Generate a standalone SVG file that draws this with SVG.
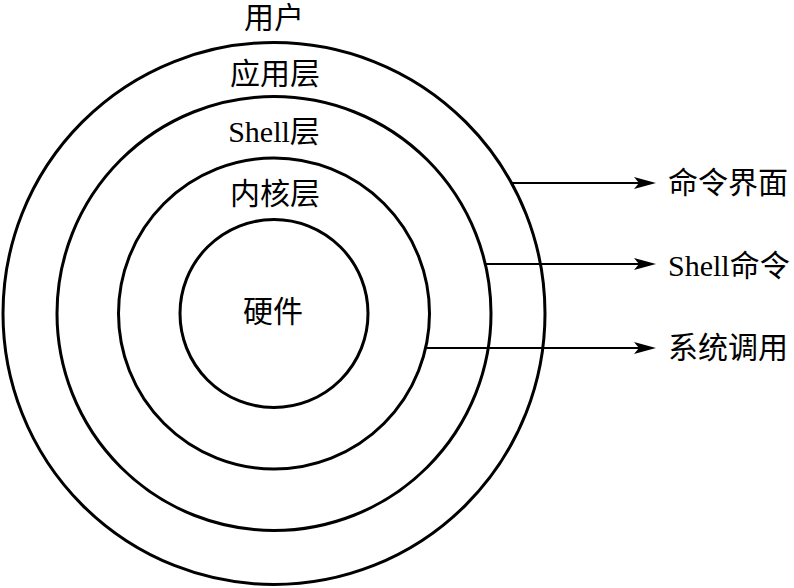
<svg xmlns="http://www.w3.org/2000/svg" width="794" height="588" viewBox="0 0 794 588">
<style>
.ring{fill:none;stroke:#000;stroke-width:3}
.conn{stroke:#000;stroke-width:2;fill:none}
text{font-family:"Liberation Serif","Noto Sans CJK SC",serif;font-size:30px;fill:#000;dominant-baseline:central}
.c{text-anchor:middle}
</style>
<defs>
<marker id="ah" markerUnits="userSpaceOnUse" markerWidth="24" markerHeight="14" refX="16" refY="7" orient="auto">
<path d="M0,1 L22,7 L0,13 L5,7 Z" fill="#000"/>
</marker>
</defs>
<rect width="794" height="588" fill="#fff"/>
<g id="user"><circle class="ring" cx="274" cy="313.5" r="271"/><text class="c" x="274" y="17">用户</text></g>
<g id="app"><circle class="ring" cx="274" cy="313.5" r="217"/><text class="c" x="275" y="73">应用层</text></g>
<g id="shell"><circle class="ring" cx="274" cy="313.5" r="155.5"/><text class="c" x="274" y="131">Shell层</text></g>
<g id="kernel"><circle class="ring" cx="274" cy="313.5" r="94"/><text class="c" x="275" y="193">内核层</text></g>
<g id="hw"><text class="c" x="273" y="311">硬件</text></g>
<g id="connectors">
<line class="conn" x1="511" y1="183" x2="650" y2="183" marker-end="url(#ah)"/>
<line class="conn" x1="485" y1="264" x2="650" y2="264" marker-end="url(#ah)"/>
<line class="conn" x1="426" y1="348" x2="650" y2="348" marker-end="url(#ah)"/>
</g>
<g id="lbl1"><text x="668" y="182">命令界面</text></g>
<g id="lbl2"><text x="668" y="265">Shell命令</text></g>
<g id="lbl3"><text x="668" y="347">系统调用</text></g>
</svg>
